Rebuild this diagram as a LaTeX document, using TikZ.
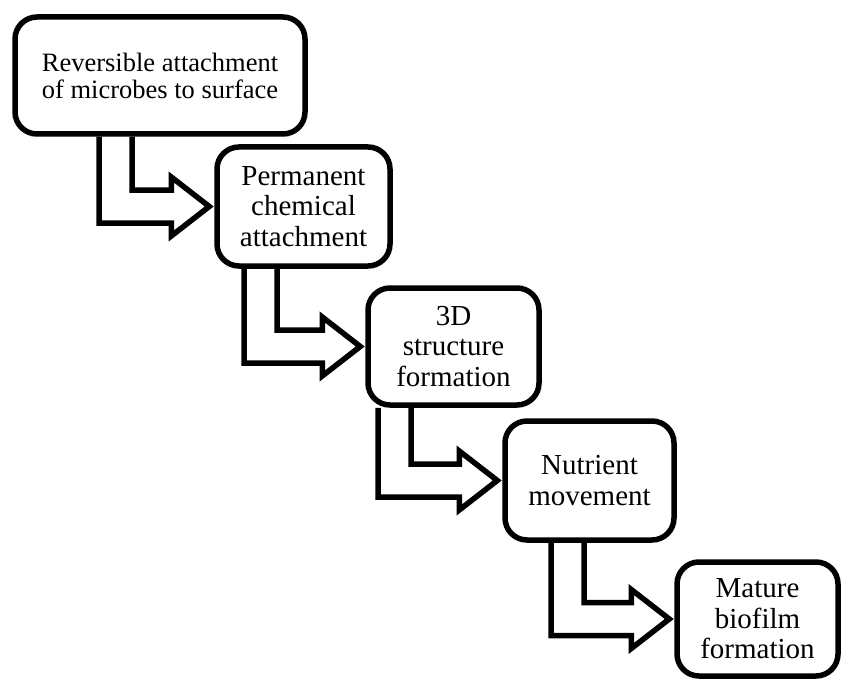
\documentclass[tikz,border=0pt]{standalone}
\usepackage{fontspec}
\setmainfont{Liberation Serif}
\usetikzlibrary{calc}

\tikzset{
    stage/.style={draw, line width=5.5pt, rounded corners=22pt, align=center, inner sep=0pt,
        font=\fontsize{29}{30.5}\selectfont},
    stagearrow/.style={line width=5.5pt, line join=miter}
}

\begin{document}
\begin{tikzpicture}[x=1pt, y=-1pt]
    \useasboundingbox (0,0) rectangle (842,679);

    \node[stage, minimum width=290pt, minimum height=117pt, font=\fontsize{26.5}{27}\selectfont]
        (attach) at (160,75.5) {Reversible attachment\\of microbes to surface};
    \node[stage, minimum width=173pt, minimum height=119pt] (perm) at (303.5,206.5) {Permanent\\chemical\\attachment};
    \node[stage, minimum width=171pt, minimum height=117pt] (struct) at (453.5,346.5) {3D\\structure\\formation};
    \node[stage, minimum width=169pt, minimum height=119pt] (nutr) at (589.5,480.5) {Nutrient\\movement};
    \node[stage, minimum width=161pt, minimum height=114pt] (mature) at (757.5,619) {Mature\\biofilm\\formation};

    \foreach \a/\b/\s in {attach/perm/99, perm/struct/244, struct/nutr/378, nutr/mature/551} {
        \draw[stagearrow] let \p1 = (\s,0 |- \a.south), \p2 = (\b.west) in
            (\x1,\y1) -- (\x1,\y2-16.5pt) -- (\x2-43pt,\y2-16.5pt) -- (\x2-43pt,\y2-29.5pt)
            -- (\x2-5pt,\y2) -- (\x2-43pt,\y2+29.5pt) -- (\x2-43pt,\y2+16.5pt)
            -- (\x1+33pt,\y2+16.5pt) -- (\x1+33pt,\y1);
    }

\end{tikzpicture}
\end{document}
